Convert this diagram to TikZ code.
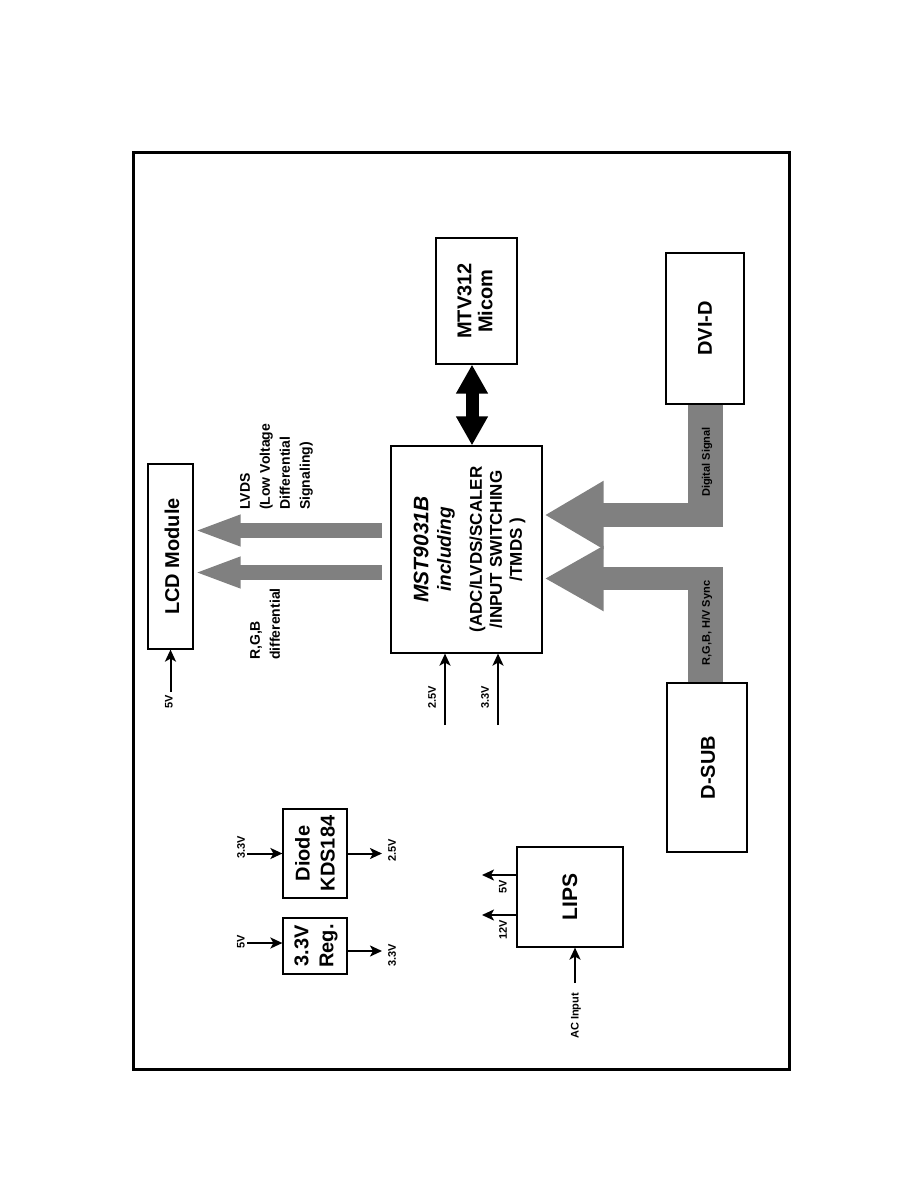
\documentclass[tikz,border=0pt]{standalone}
\usepackage{fontspec}
\setmainfont{Liberation Sans}
\usetikzlibrary{arrows.meta,calc}
\definecolor{sig}{RGB}{128,128,128}
\begin{document}
\begin{tikzpicture}[x=1pt,y=-1pt,
  box/.style={draw, line width=1.2pt, inner sep=0pt},
  ttl/.style={rotate=90, inner sep=0pt, align=center, font=\bfseries\fontsize{20}{21}\selectfont},
  lbl/.style={rotate=90, inner sep=0pt, font=\bfseries\fontsize{11}{12}\selectfont},
  mid/.style={rotate=90, inner sep=0pt, align=left, font=\bfseries\fontsize{14}{20}\selectfont},
  pwr/.style={line width=2pt, -{Stealth[length=12pt,width=11pt,inset=3pt]}},
  dbl/.style={line width=13pt, {Triangle[length=29pt,width=30pt]}-{Triangle[length=29pt,width=30pt]}},
  band/.style={sig, line width=35pt},
  lvds/.style={sig, line width=15pt, -{Triangle[length=47pt,width=28pt]}}
]
\useasboundingbox (0,0) rectangle (918,1188);
% frame
\draw[line width=3pt] (133.5,152.5) rectangle (789,1069);

% boxes
\node[box, minimum width=45pt, minimum height=185pt] (lcd) at (170.5,556.5) {};
\node[box, minimum width=81pt, minimum height=126pt] (mtv) at (476.5,301) {};
\node[box, minimum width=78pt, minimum height=151pt] (dvi) at (705,328.5) {};
\node[box, minimum width=80pt, minimum height=169pt] (dsub) at (707,767.5) {};
\node[box, minimum width=151pt, minimum height=207pt] (mst) at (466.5,549.5) {};
\node[box, minimum width=64pt, minimum height=89pt] (diode) at (315,853.5) {};
\node[box, minimum width=64pt, minimum height=56pt] (reg) at (315,946) {};
\node[box, minimum width=106pt, minimum height=100pt] (lips) at (570,897) {};

% box texts
\node[ttl] (lcdT) at (172,556.5) {LCD Module};
\node[ttl] (mtvT) at (475,301) {MTV312\\Micom};
\node[ttl] (dviT) at (705,328.5) {DVI-D};
\node[ttl] (dsubT) at (708,767.5) {D-SUB};
\node[ttl, font=\bfseries\fontsize{20}{25}\selectfont] (diodeT) at (315,853.5) {Diode\\KDS184};
\node[ttl, font=\bfseries\fontsize{20}{25}\selectfont] (regT) at (316,946) {3.3V\\Reg.};
\node[ttl, font=\bfseries\fontsize{21}{21}\selectfont] (lipsT) at (570,897) {LIPS};
\node[rotate=90, inner sep=0pt, align=center, anchor=north, font=\bfseries\fontsize{17}{20}\selectfont] (mstT) at (413.5,549.5)
  {{\itshape\fontsize{21}{20}\selectfont MST9031B}\\[2.5pt]
   {\itshape\fontsize{19}{20}\selectfont including}\\[11pt]
   (ADC/LVDS/SCALER\\
   /INPUT SWITCHING\\
   /TMDS )};

% MTV <-> MST
\coordinate (dblx) at (472,0);
\draw[dbl] (dblx |- mtv.south) -- (dblx |- mst.north);

% LVDS arrows
\coordinate (lv1) at (382,530.5);
\coordinate (lv2) at (382,572.5);
\draw[lvds] (lv1) -- (lv1 -| lcd.east);
\draw[lvds] (lv2) -- (lv2 -| lcd.east);
\node[mid, anchor=north west] (lvdsT) at (240,510) {LVDS\\(Low Voltage\\Differential\\Signaling)};
\node[mid, anchor=north west] (rgbT) at (250,660) {R,G,B\\differential};

% DVI digital signal
\coordinate (dvx) at (705.5,527);
\draw[band] (dvx |- dvi.south) -- (dvx);
\coordinate (dh) at (723,515);
\draw[sig, line width=24pt, -{Triangle[length=59pt,width=64pt]}] (dh) -- ($(dh -| mst.east)+(2,0)$);
\node[lbl] (digT) at (707,462) {Digital Signal};

% D-SUB signal
\coordinate (dsx) at (705.5,567);
\draw[band] (dsx |- dsub.north) -- (dsx);
\coordinate (rh) at (723,578.5);
\draw[sig, line width=23pt, -{Triangle[length=59pt,width=61pt]}] (rh) -- ($(rh -| mst.east)+(2,0)$);
\node[lbl] (syncT) at (707,623) {R,G,B, H/V Sync};

% LCD 5V
\coordinate (lcd5) at (170.5,692);
\draw[pwr] (lcd5) -- (lcd.south);
\node[lbl] (lcd5T) at (169,702) {5V};

% MST supplies
\coordinate (in25) at (445,725);
\coordinate (in33) at (498,725);
\draw[pwr] (in25) -- (in25 |- mst.south);
\draw[pwr] (in33) -- (in33 |- mst.south);
\node[lbl] (in25T) at (432,697) {2.5V};
\node[lbl] (in33T) at (485,697) {3.3V};

% Diode
\coordinate (dIn) at (247,853.5);
\coordinate (dOut) at (382,853.5);
\draw[pwr] (dIn) -- (dIn -| diode.west);
\draw[pwr] (dOut -| diode.east) -- (dOut);
\node[lbl] (dInT) at (241,847) {3.3V};
\node[lbl] (dOutT) at (392,850) {2.5V};

% Regulator
\coordinate (rIn) at (247,943);
\coordinate (rOut) at (382,951);
\draw[pwr] (rIn) -- (rIn -| reg.west);
\draw[pwr] (rOut -| reg.east) -- (rOut);
\node[lbl] (rInT) at (241,942) {5V};
\node[lbl] (rOutT) at (392,955) {3.3V};

% LIPS
\coordinate (l5) at (482,875);
\coordinate (l12) at (482,915);
\draw[pwr] (l5 -| lips.west) -- (l5);
\draw[pwr] (l12 -| lips.west) -- (l12);
\node[lbl] (l5T) at (503,887) {5V};
\node[lbl] (l12T) at (503,930) {12V};
\coordinate (ac) at (575,983);
\draw[pwr] (ac) -- (ac |- lips.south);
\node[lbl] (acT) at (576,1016) {AC Input};
\end{tikzpicture}
\end{document}
